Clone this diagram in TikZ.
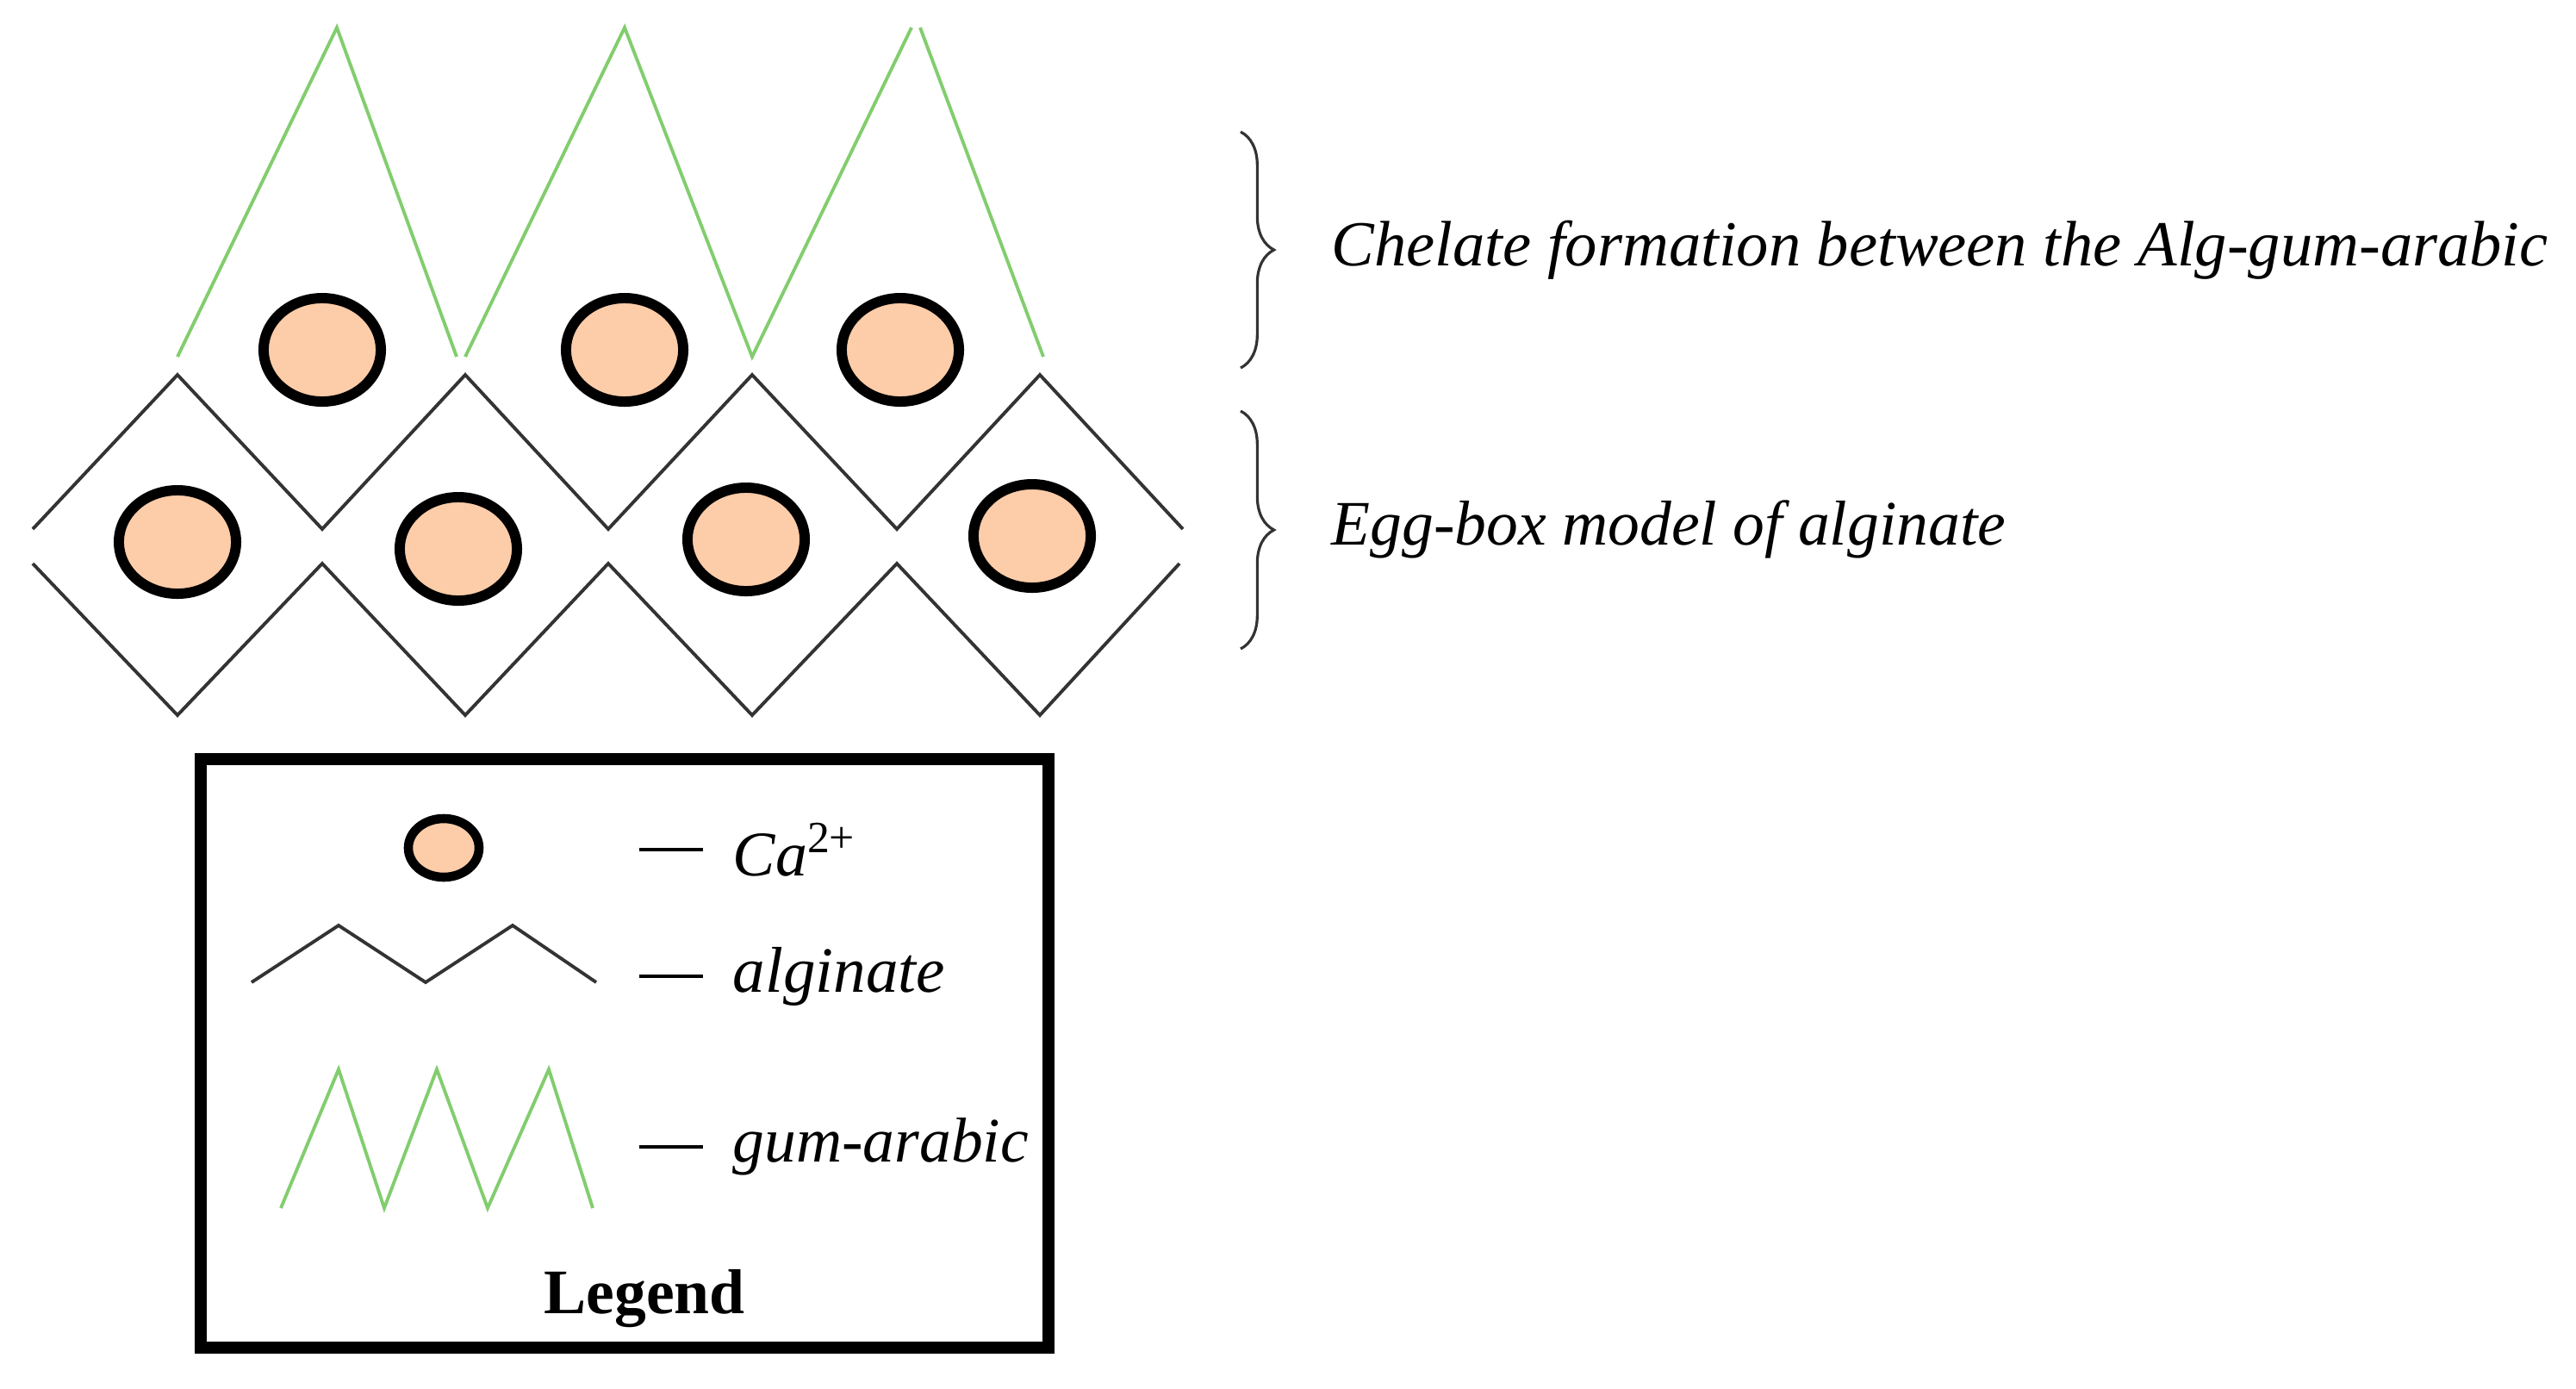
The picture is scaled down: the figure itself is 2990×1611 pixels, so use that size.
\documentclass[tikz,border=0pt]{standalone}
\usepackage{fontspec}
\setmainfont{Liberation Serif}
\usetikzlibrary{decorations.pathreplacing,shapes.geometric}
\definecolor{gumgreen}{RGB}{130,205,110}
\definecolor{cafill}{RGB}{253,204,168}
\begin{document}
\begin{tikzpicture}[x=0.01cm,y=-0.01cm,
  gum/.style={draw=gumgreen, line width=1.1pt},
  alg/.style={draw=black!80, line width=1.1pt},
  ca/.style={ellipse, draw=black, fill=cafill, line width=3.4pt, minimum width=1.36cm, minimum height=1.2cm, inner sep=0},
  br/.style={decorate, decoration={brace, amplitude=11pt}, draw=black!80, line width=0.9pt},
  lab/.style={anchor=west, inner sep=0}]
\useasboundingbox (0,0) rectangle (2990,1611);
% gum-arabic
\draw[gum] (206,414) -- (391,32) -- (530,414);
\draw[gum] (540,414) -- (725,32) -- (873,414) -- (1058,32);
\draw[gum] (1068,32) -- (1211,414);
% alginate
\draw[alg] (38,614) -- (206,435) -- (374,614) -- (540,435) -- (706,614) -- (873,435) -- (1041,614) -- (1207,435) -- (1373,614);
\draw[alg] (38,654) -- (206,830) -- (374,654) -- (540,830) -- (706,654) -- (873,830) -- (1041,654) -- (1207,830) -- (1369,654);
% Ca
\node[ca] (c1) at (374,406) {};
\node[ca] (c2) at (725,406) {};
\node[ca] (c3) at (1045,406) {};
\node[ca] (c4) at (206,629) {};
\node[ca] (c5) at (532,637) {};
\node[ca] (c6) at (866,626) {};
\node[ca] (c7) at (1198,622) {};
% braces
\draw[br] (1440,153) -- (1440,427);
\draw[br] (1440,477) -- (1440,753);
\node[lab] (t1) at (1545,290) {\resizebox{14.11cm}{!}{\itshape Chelate formation between the Alg-gum-arabic}};
\node[lab] (t2) at (1545,614) {\resizebox{7.82cm}{!}{\itshape Egg-box model of alginate}};
% legend
\draw[line width=4pt] (233,881) rectangle (1217,1564);
\node[ca, minimum width=0.82cm, minimum height=0.68cm, line width=3pt] (lc) at (515,984) {};
\draw[alg] (292,1140) -- (393,1074) -- (494,1140) -- (595,1074) -- (692,1140);
\draw[gum] (326,1402) -- (393,1241) -- (446,1402) -- (507,1241) -- (566,1402) -- (637,1241) -- (688,1402);
\draw[black, line width=1pt] (742,986) -- (816,986);
\draw[black, line width=1pt] (742,1133) -- (816,1133);
\draw[black, line width=1pt] (742,1331) -- (816,1331);
\node[lab] (l1) at (850,986) {\resizebox{1.45cm}{!}{\itshape Ca\textsuperscript{\upshape 2+}}};
\node[lab] (l2) at (850,1133) {\resizebox{2.46cm}{!}{\itshape alginate}};
\node[lab] (l3) at (850,1331) {\resizebox{3.43cm}{!}{\itshape gum-arabic}};
\node[inner sep=0] (lg) at (748,1507) {\resizebox{2.33cm}{!}{\bfseries Legend}};
\end{tikzpicture}
\end{document}
